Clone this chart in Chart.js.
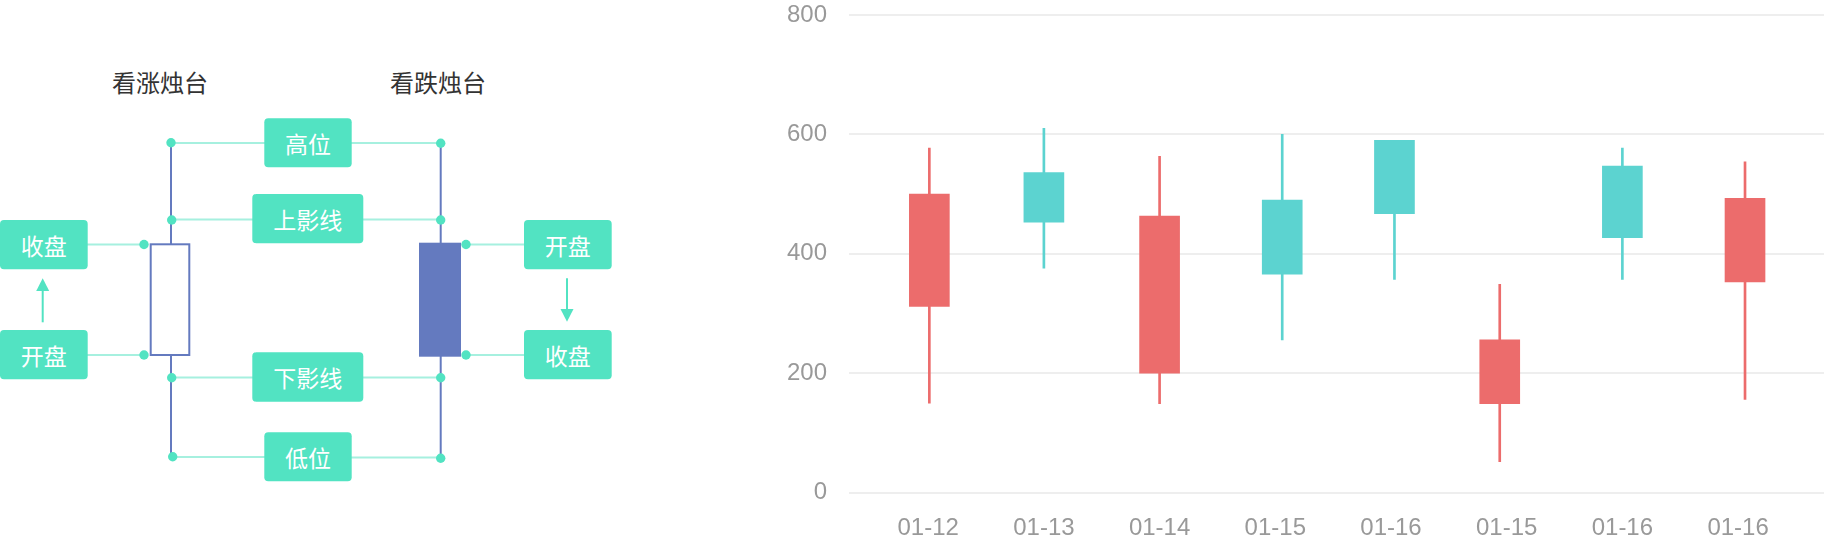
<!DOCTYPE html>
<html>
<head>
<meta charset="utf-8">
<script src="https://cdn.jsdelivr.net/npm/chart.js@4.4.0/dist/chart.umd.min.js"></script>
<style>
  html, body { margin: 0; padding: 0; background: #fff; }
  #page { position: relative; width: 1824px; height: 544px; overflow: hidden; }
  #explain { position: absolute; left: 0; top: 0; }
  #explain text { font-family: "Noto Sans CJK SC", sans-serif; }
  #kline { position: absolute; left: 765px; top: 0; }
</style>
</head>
<body>
<div id="page">
  <!-- 左边的说明图 -->
  <svg id="explain" width="640" height="544" viewBox="0 0 640 544">
    <text x="160" y="81" font-size="24" fill="#333" text-anchor="middle" dominant-baseline="central">看涨烛台</text>
    <text x="438" y="81" font-size="24" fill="#333" text-anchor="middle" dominant-baseline="central">看跌烛台</text>

    <g stroke="#a6f0df" stroke-width="2">
      <line x1="171" y1="143" x2="265" y2="143"/>
      <line x1="351" y1="143" x2="441" y2="143"/>
      <line x1="171" y1="219.5" x2="253" y2="219.5"/>
      <line x1="363" y1="219.5" x2="441" y2="219.5"/>
      <line x1="87" y1="244.5" x2="144" y2="244.5"/>
      <line x1="87" y1="355" x2="144" y2="355"/>
      <line x1="466" y1="244.5" x2="525" y2="244.5"/>
      <line x1="466" y1="355" x2="525" y2="355"/>
      <line x1="171" y1="377.5" x2="253" y2="377.5"/>
      <line x1="363" y1="377.5" x2="441" y2="377.5"/>
      <line x1="172" y1="457" x2="265" y2="457"/>
      <line x1="351" y1="457.5" x2="441" y2="457.5"/>
    </g>

    <g stroke="#647abf" stroke-width="2">
      <line x1="171" y1="143" x2="171" y2="457"/>
      <line x1="440.7" y1="143" x2="440.7" y2="458"/>
    </g>
    <rect x="150.7" y="244.3" width="38.6" height="110.7" fill="#fff" stroke="#647abf" stroke-width="2"/>
    <rect x="419" y="242.7" width="42" height="114" fill="#647abf"/>

    <g fill="#52e3c2">
      <circle cx="171" cy="142.7" r="4.7"/>
      <circle cx="171.7" cy="220" r="4.7"/>
      <circle cx="144" cy="244.5" r="4.7"/>
      <circle cx="144" cy="355" r="4.7"/>
      <circle cx="171.7" cy="377.7" r="4.7"/>
      <circle cx="172.7" cy="456.7" r="4.7"/>
      <circle cx="440.7" cy="143.3" r="4.7"/>
      <circle cx="440.7" cy="220" r="4.7"/>
      <circle cx="466" cy="244.5" r="4.7"/>
      <circle cx="466" cy="355" r="4.7"/>
      <circle cx="440.7" cy="377.7" r="4.7"/>
      <circle cx="440.7" cy="458.3" r="4.7"/>

      <rect x="264.3" y="118.3" width="87.4" height="49" rx="4"/>
      <rect x="252.3" y="194" width="111" height="49.3" rx="4"/>
      <rect x="252.3" y="352.3" width="111" height="49.4" rx="4"/>
      <rect x="264.3" y="432.3" width="87.4" height="49" rx="4"/>
      <rect x="0" y="220" width="87.7" height="49.3" rx="4"/>
      <rect x="0" y="330" width="87.7" height="49.3" rx="4"/>
      <rect x="524" y="220" width="87.7" height="49.3" rx="4"/>
      <rect x="524" y="330" width="87.7" height="49.3" rx="4"/>

      <polygon points="42.7,278.3 36.2,291 49.2,291"/>
      <polygon points="567,321.7 560.5,309 573.5,309"/>
    </g>
    <g stroke="#52e3c2" stroke-width="2">
      <line x1="42.7" y1="322.3" x2="42.7" y2="289"/>
      <line x1="567" y1="278.3" x2="567" y2="311"/>
    </g>

    <g fill="#fff" font-size="23" text-anchor="middle" dominant-baseline="central">
      <text x="308" y="143">高位</text>
      <text x="307.8" y="219">上影线</text>
      <text x="307.8" y="377">下影线</text>
      <text x="308" y="457">低位</text>
      <text x="43.8" y="244.7">收盘</text>
      <text x="43.8" y="354.7">开盘</text>
      <text x="567.8" y="244.7">开盘</text>
      <text x="567.8" y="354.7">收盘</text>
    </g>
  </svg>

  <canvas id="kline" width="1059" height="544"></canvas>
</div>

<script>
// K线数据
var dates = ['01-12', '01-13', '01-14', '01-15', '01-16', '01-15', '01-16', '01-16'];
var openV  = [312, 536, 200, 490, 590, 149, 547, 353];
var closeV = [500, 453, 463, 366, 467, 256, 427, 493];
var highV  = [577, 610, 563, 600, 590, 349, 577, 554];
var lowV   = [150, 376, 149, 256, 357, 52, 357, 156];
// where each candle sits on the x axis (category units)
var candleX = [0.01, 1.0, 2.0, 3.06, 4.03, 4.94, 6.0, 7.06];
var yTicks = [0, 200, 400, 600, 800];

var red = '#ec6c6c', teal = '#5cd3d0';
var colors = openV.map(function (o, i) { return closeV[i] > o ? red : teal; });

var bodies = candleX.map(function (x, i) { return { x: x, y: [openV[i], closeV[i]] }; });
var wicks = candleX.map(function (x, i) { return { x: x, y: [lowV[i], highV[i]] }; });

var ctx = document.getElementById('kline').getContext('2d');
var chart = new Chart(ctx, {
    type: 'bar',
    data: {
        datasets: [
            {
                label: 'body',
                data: bodies,
                backgroundColor: colors,
                barThickness: 40,
                grouped: false
            },
            {
                label: 'wick',
                data: wicks,
                backgroundColor: colors,
                barThickness: 2,
                grouped: false
            }
        ]
    },
    options: {
        responsive: false,
        animation: false,
        layout: { padding: { top: 14.9, right: 0, bottom: 0, left: 0 } },
        plugins: { legend: { display: false }, tooltip: { enabled: false } },
        scales: {
            x: {
                type: 'linear',
                offset: false,
                min: -0.6845,
                max: 7.7427,
                grid: { display: false, drawTicks: false, offset: false },
                border: { display: false },
                afterBuildTicks: function (scale) {
                    scale.ticks = dates.map(function (d, i) { return { value: i }; });
                },
                afterFit: function (scale) { scale.height = 51.3; },
                ticks: {
                    autoSkip: false,
                    maxRotation: 0,
                    padding: 21,
                    color: '#999',
                    font: { family: 'Liberation Sans, Arial, sans-serif', size: 24 },
                    callback: function (v, i) { return dates[i]; }
                }
            },
            y: {
                min: 0,
                max: 800,
                grid: { color: '#eeeeee', lineWidth: 2, drawTicks: false },
                border: { display: false },
                afterBuildTicks: function (scale) {
                    scale.ticks = yTicks.map(function (v) { return { value: v }; });
                },
                afterFit: function (scale) {
                    scale.width = 84;
                    scale.paddingTop = 0;
                    scale.paddingBottom = 0;
                },
                ticks: {
                    padding: 22,
                    color: '#999',
                    font: { family: 'Liberation Sans, Arial, sans-serif', size: 24 }
                }
            }
        }
    }
});
</script>
</body>
</html>
